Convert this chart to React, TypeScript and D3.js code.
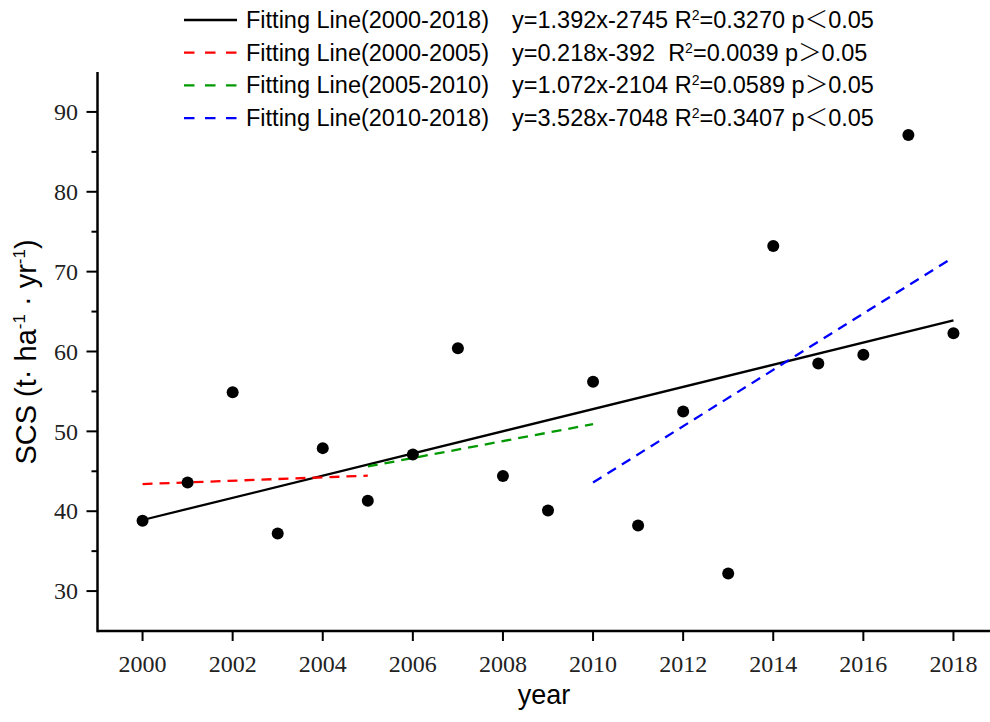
import React from "react";
import * as d3 from "d3";

const years = [2000, 2001, 2002, 2003, 2004, 2005, 2006, 2007, 2008, 2009, 2010, 2011, 2012, 2013, 2014, 2015, 2016, 2017, 2018];
const scs = [38.8, 43.6, 54.9, 37.2, 47.9, 41.3, 47.1, 60.4, 44.4, 40.1, 56.2, 38.2, 52.5, 32.2, 73.2, 58.5, 59.6, 87.1, 62.3];

const fitNames = ["Fitting Line(2000-2018)", "Fitting Line(2000-2005)", "Fitting Line(2005-2010)", "Fitting Line(2010-2018)"];
const fitEquations = ["y=1.392x-2745 ", "y=0.218x-392  ", "y=1.072x-2104 ", "y=3.528x-7048 "];
const fitR2 = ["=0.3270 p", "=0.0039 p", "=0.0589 p", "=0.3407 p"];
const fitSign = ["＜", "＞", "＞", "＜"];
const fitP = ["0.05", "0.05", "0.05", "0.05"];
const fitColors = ["#000000", "#ff0000", "#009900", "#0000ff"];
const fitDashed = [false, true, true, true];
const fitStartYear = [2000, 2000, 2005, 2010];
const fitEndYear = [2018, 2005, 2010, 2018];
const fitStartValue = [38.9, 43.4, 45.6, 43.6];
const fitEndValue = [63.9, 44.45, 50.9, 71.8];

const xTicks = [2000, 2002, 2004, 2006, 2008, 2010, 2012, 2014, 2016, 2018];
const yTicks = [30, 40, 50, 60, 70, 80, 90];
const yMinorTicks = [35, 45, 55, 65, 75, 85];

export default function App() {
  const W = 990, H = 722;
  const x = d3.scaleLinear().domain([1999, 2019]).range([97.5, 998.5]);
  const y = d3.scaleLinear().domain([25, 95]).range([631, 72]);
  const lineGen = d3.line<[number, number]>().x(d => x(d[0])).y(d => y(d[1]));
  const serif = "'Liberation Serif', 'DejaVu Serif', serif";
  const sans = "'Liberation Sans', Arial, sans-serif";
  const legendY = (i: number) => 20 + i * 32.7;

  return (
    <svg width={W} height={H} style={{ position: "absolute", left: 0, top: 0, background: "#fff" }}>
      <rect width={W} height={H} fill="#fff" />
      {/* fitting lines */}
      {fitNames.map((n, i) => (
        <path key={n} d={lineGen([[fitStartYear[i], fitStartValue[i]], [fitEndYear[i], fitEndValue[i]]]) || ""}
          fill="none" stroke={fitColors[i]} strokeWidth={2.3}
          strokeDasharray={fitDashed[i] ? "10,7" : undefined} />
      ))}
      {/* points */}
      {years.map((yr, i) => (
        <circle key={yr} cx={x(yr)} cy={y(scs[i])} r={6} fill="#000" />
      ))}
      {/* axes */}
      <line x1={x(1999)} x2={W} y1={y(25)} y2={y(25)} stroke="#000" strokeWidth={2.5} />
      <line x1={x(1999)} x2={x(1999)} y1={y(95)} y2={y(25) + 1.25} stroke="#000" strokeWidth={2.5} />
      {xTicks.map(t => (
        <g key={t}>
          <line x1={x(t)} x2={x(t)} y1={y(25)} y2={y(25) + 10} stroke="#000" strokeWidth={2} />
          <text x={x(t)} y={672} textAnchor="middle" fontFamily={serif} fontSize={24} fill="#222">{t}</text>
        </g>
      ))}
      {yTicks.map(t => (
        <g key={t}>
          <line x1={x(1999) - 11} x2={x(1999)} y1={y(t)} y2={y(t)} stroke="#000" strokeWidth={2} />
          <text x={78} y={y(t)} dy="0.34em" textAnchor="end" fontFamily={serif} fontSize={24} fill="#222">{t}</text>
        </g>
      ))}
      {yMinorTicks.map(t => (
        <line key={t} x1={x(1999) - 6} x2={x(1999)} y1={y(t)} y2={y(t)} stroke="#000" strokeWidth={2} />
      ))}
      {/* axis titles */}
      <text x={544} y={704} textAnchor="middle" fontFamily={sans} fontSize={27} fill="#000">year</text>
      <text transform="translate(36,352) rotate(-90)" textAnchor="middle" fontFamily={sans} fontSize={29} fill="#000" style={{ whiteSpace: "pre" }}>
        SCS (t· ha<tspan dy={-11} fontSize={17}>-1</tspan><tspan dy={11}> · yr</tspan><tspan dy={-11} fontSize={17}>-1</tspan><tspan dy={11}>)</tspan>
      </text>
      {/* legend */}
      {fitNames.map((n, i) => (
        <g key={n}>
          <line x1={184} x2={237} y1={legendY(i)} y2={legendY(i)} stroke={fitColors[i]} strokeWidth={2.3}
            strokeDasharray={fitDashed[i] ? "10.5,10.5" : undefined} />
          <text x={246} y={legendY(i) + 8} fontFamily={sans} fontSize={23.5} fill="#000">{n}</text>
          <text x={512} y={legendY(i) + 8} fontFamily={sans} fontSize={23.5} fill="#000" style={{ whiteSpace: "pre" }}>
            {fitEquations[i]}R<tspan dy={-8} fontSize={14}>2</tspan><tspan dy={8}>{fitR2[i]}</tspan>
            <tspan fontFamily="'Noto Sans CJK SC', sans-serif" fontWeight={300}>{fitSign[i]}</tspan>{fitP[i]}
          </text>
        </g>
      ))}
    </svg>
  );
}
